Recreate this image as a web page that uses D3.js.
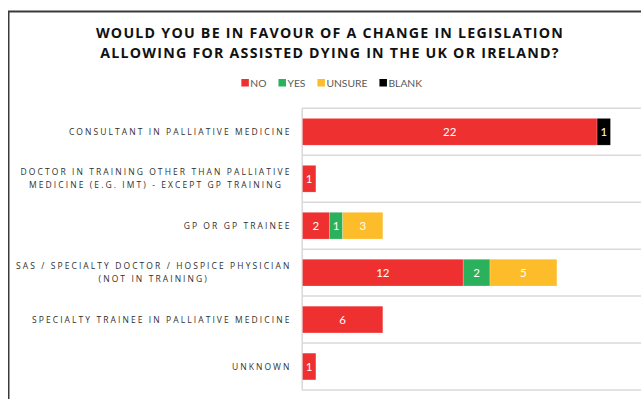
<!DOCTYPE html>
<html>
<head>
<meta charset="utf-8">
<script src="https://cdn.jsdelivr.net/npm/d3@7/dist/d3.min.js"></script>
<style>
  html, body { margin: 0; padding: 0; background: #fff; }
  svg { display: block; }
</style>
</head>
<body>
<svg id="chart" width="641" height="399"></svg>
<script>
// Respondent groups, top to bottom; "\n" splits a label over two lines
const categories = [
  "CONSULTANT IN PALLIATIVE MEDICINE",
  "DOCTOR IN TRAINING OTHER THAN PALLIATIVE\nMEDICINE (E.G. IMT) - EXCEPT GP TRAINING",
  "GP OR GP TRAINEE",
  "SAS / SPECIALTY DOCTOR / HOSPICE PHYSICIAN\n(NOT IN TRAINING)",
  "SPECIALTY TRAINEE IN PALLIATIVE MEDICINE",
  "UNKNOWN"
];
const seriesNames = ["NO", "YES", "UNSURE", "BLANK"];
const noValues     = [22, 1, 2, 12, 6, 1];
const yesValues    = [0, 0, 1, 2, 0, 0];
const unsureValues = [0, 0, 3, 5, 0, 0];
const blankValues  = [1, 0, 0, 0, 0, 0];
const titleLines = [
  "WOULD YOU BE IN FAVOUR OF A CHANGE IN LEGISLATION",
  "ALLOWING FOR ASSISTED DYING IN THE UK OR IRELAND?"
];

const colors = {NO: "#EE3030", YES: "#2BB15C", UNSURE: "#FDBD2A", BLANK: "#000000"};

const rows = categories.map((c, i) => ({
  category: c,
  NO: noValues[i], YES: yesValues[i], UNSURE: unsureValues[i], BLANK: blankValues[i]
}));

const svg = d3.select("#chart");
const W = 641, H = 399;

// chart frame (continues past the right and bottom edges)
svg.append("rect")
  .attr("x", 8.5).attr("y", 10.5)
  .attr("width", 700).attr("height", 420)
  .attr("fill", "none").attr("stroke", "#9a9a9a").attr("stroke-width", 1);
svg.append("rect")
  .attr("x", 8.75).attr("y", 11.75)
  .attr("width", 700).attr("height", 420)
  .attr("fill", "none").attr("stroke", "#3a3a3a").attr("stroke-width", 1.5);

// title
const title = svg.append("g").attr("class", "title");
titleLines.forEach((t, i) => {
  title.append("text")
    .attr("x", 330).attr("y", 37.5 + i * 20)
    .attr("text-anchor", "middle")
    .attr("font-family", "'Open Sans', sans-serif")
    .attr("font-weight", 700)
    .attr("font-size", 14.2)
    .attr("letter-spacing", 1.25)
    .attr("fill", "#111")
    .text(t);
});

// legend: swatch + label items laid out in a row, centred as a block
const legendCenter = 331.7, swatch = 7.5, swatchGap = 1.5, itemGap = 12;
const lg = svg.append("g").attr("class", "legend");
let cursor = 0;
seriesNames.forEach(name => {
  const item = lg.append("g").attr("transform", `translate(${cursor},0)`);
  item.append("rect")
    .attr("x", 0).attr("y", 79).attr("width", swatch).attr("height", swatch)
    .attr("fill", colors[name]);
  const t = item.append("text")
    .attr("x", swatch + swatchGap).attr("y", 86.5)
    .attr("font-family", "Lato, sans-serif")
    .attr("font-size", 10.3)
    .attr("fill", "#595959")
    .text(name);
  cursor += swatch + swatchGap + t.node().getComputedTextLength() + itemGap;
});
const legendWidth = cursor - itemGap;
lg.attr("transform", `translate(${legendCenter - legendWidth / 2},0)`);

// scales
const plotLeft = 302.5, plotTop = 108.3, plotBottom = 390;
const x = d3.scaleLinear().domain([0, 25]).range([plotLeft, plotLeft + 25 * 13.39]);
const y = d3.scaleBand().domain(categories).range([plotTop, plotBottom]).paddingInner(0.43).paddingOuter(0.215);

// row separators
const edges = d3.range(categories.length + 1).map(i => plotTop + i * (plotBottom - plotTop) / categories.length);
svg.append("g").selectAll("line").data(edges).join("line")
  .attr("x1", plotLeft - 0.5).attr("x2", W)
  .attr("y1", d => d).attr("y2", d => d)
  .attr("stroke", "#d9d9d9").attr("stroke-width", 1.5);

// category axis line
svg.append("line")
  .attr("x1", plotLeft - 0.3).attr("x2", plotLeft - 0.3)
  .attr("y1", plotTop).attr("y2", plotBottom)
  .attr("stroke", "#d9d9d9").attr("stroke-width", 1.5);

// stacked bars
const stack = d3.stack().keys(seriesNames)(rows);
const layers = svg.append("g").selectAll("g").data(stack).join("g")
  .attr("fill", d => colors[d.key]);

layers.selectAll("rect").data(d => d.filter(s => s[1] - s[0] > 0)).join("rect")
  .attr("x", d => x(d[0]))
  .attr("y", d => y(d.data.category))
  .attr("width", d => x(d[1]) - x(d[0]))
  .attr("height", y.bandwidth())
  .attr("stroke", "#ffffff").attr("stroke-opacity", 0.35).attr("stroke-width", 0.6);

// value labels
layers.selectAll("text").data(d => d.filter(s => s[1] - s[0] > 0)).join("text")
  .attr("x", d => (x(d[0]) + x(d[1])) / 2)
  .attr("y", d => y(d.data.category) + y.bandwidth() / 2)
  .attr("dy", "0.36em")
  .attr("text-anchor", "middle")
  .attr("font-family", "Lato, sans-serif")
  .attr("font-size", 11.5)
  .attr("fill", "#ffffff")
  .text(d => d[1] - d[0]);

// category labels: multi-line labels are centred within a right-aligned block
const labelRight = 291.5;
const labels = svg.append("g").attr("class", "cat-labels")
  .attr("font-family", "'Open Sans', sans-serif")
  .attr("font-size", 8.5)
  .attr("letter-spacing", 2.08)
  .attr("fill", "#303030");

categories.forEach(c => {
  const lines = c.split("\n");
  const cy = y(c) + y.bandwidth() / 2;
  const texts = lines.map((ln, i) => labels.append("text")
    .attr("y", cy + (i - (lines.length - 1) / 2) * 12.6)
    .attr("dy", "0.35em")
    .text(ln));
  const widths = texts.map(t => t.node().getComputedTextLength());
  const maxW = d3.max(widths);
  const cx = labelRight - maxW / 2;
  texts.forEach((t, i) => t.attr("x", cx - widths[i] / 2));
});
</script>
</body>
</html>
